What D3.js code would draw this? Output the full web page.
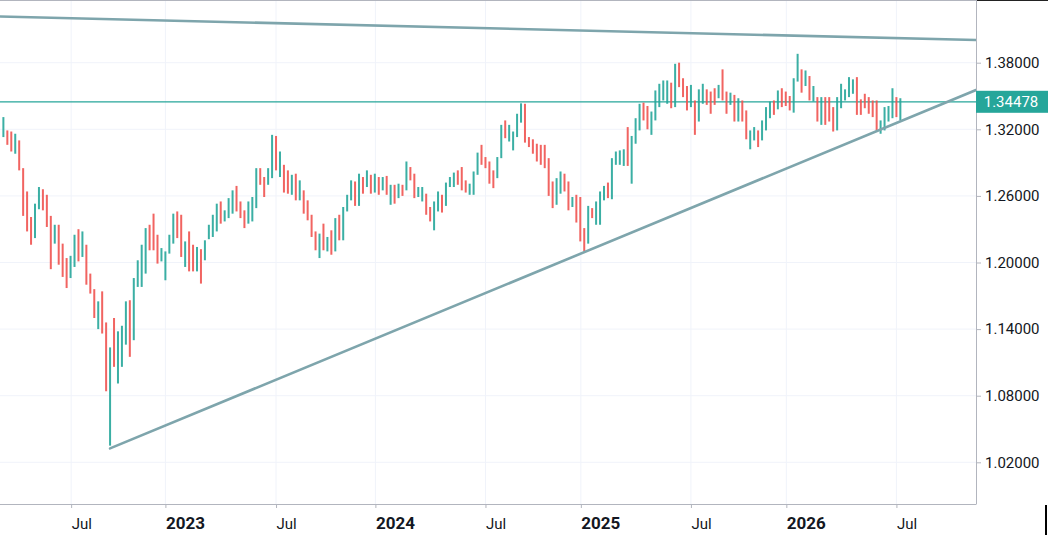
<!DOCTYPE html>
<html><head><meta charset="utf-8">
<script src="https://cdn.jsdelivr.net/npm/d3@7"></script>
<style>html,body{margin:0;padding:0;background:#fff;overflow:hidden}svg{display:block}</style>
</head><body><svg id="c" width="1048" height="535"></svg>
<script>
// ---- data (weekly OHLC, first bar week of 2022-03-21) ----
const startDate = "2022-03-21";
const highs = [
1.331,1.319,1.318,1.316,1.310,1.285,1.264,1.241,1.253,1.268,
1.266,1.261,1.242,1.234,1.234,1.217,1.204,1.206,1.225,1.230,
1.228,1.216,1.190,1.176,1.165,1.174,1.146,1.1235,1.150,1.138,
1.143,1.165,1.166,1.186,1.202,1.216,1.231,1.234,1.244,1.225,
1.213,1.210,1.225,1.244,1.246,1.243,1.219,1.228,1.216,1.214,
1.212,1.220,1.234,1.243,1.253,1.255,1.247,1.258,1.265,1.269,
1.255,1.247,1.255,1.259,1.285,1.285,1.277,1.285,1.315,1.314,
1.300,1.288,1.283,1.279,1.280,1.274,1.265,1.256,1.243,1.228,
1.226,1.235,1.223,1.229,1.240,1.243,1.250,1.261,1.274,1.273,
1.280,1.277,1.283,1.279,1.280,1.277,1.277,1.278,1.270,1.270,
1.271,1.270,1.291,1.286,1.280,1.268,1.268,1.262,1.250,1.255,
1.264,1.261,1.272,1.277,1.281,1.283,1.286,1.274,1.271,1.282,
1.299,1.306,1.295,1.291,1.283,1.295,1.324,1.328,1.324,1.318,
1.334,1.3434,1.343,1.313,1.311,1.307,1.306,1.306,1.294,1.273,
1.276,1.282,1.280,1.273,1.259,1.261,1.259,1.231,1.251,1.249,
1.255,1.264,1.269,1.272,1.294,1.300,1.301,1.302,1.322,1.314,
1.330,1.343,1.344,1.341,1.336,1.355,1.361,1.364,1.364,1.362,
1.379,1.380,1.366,1.359,1.360,1.346,1.356,1.361,1.356,1.354,
1.357,1.360,1.374,1.354,1.353,1.351,1.348,1.346,1.337,1.319,
1.322,1.319,1.328,1.340,1.345,1.346,1.355,1.357,1.354,1.350,
1.366,1.388,1.374,1.373,1.368,1.359,1.349,1.349,1.349,1.349,
1.340,1.349,1.361,1.356,1.367,1.365,1.367,1.347,1.352,1.349,
1.346,1.346,1.328,1.340,1.341,1.357,1.349,1.348];
const lows = [
1.313,1.306,1.300,1.298,1.283,1.242,1.228,1.216,1.222,1.248,
1.247,1.232,1.194,1.217,1.198,1.187,1.177,1.186,1.196,1.201,
1.205,1.180,1.172,1.150,1.140,1.136,1.084,1.035,1.106,1.091,
1.106,1.126,1.115,1.130,1.178,1.178,1.190,1.211,1.211,1.199,
1.201,1.184,1.208,1.217,1.222,1.205,1.196,1.192,1.192,1.192,
1.181,1.202,1.221,1.223,1.228,1.235,1.237,1.240,1.244,1.246,
1.240,1.231,1.235,1.237,1.249,1.270,1.259,1.270,1.276,1.283,
1.277,1.263,1.262,1.261,1.256,1.256,1.244,1.238,1.223,1.211,
1.204,1.211,1.210,1.207,1.210,1.220,1.220,1.246,1.256,1.251,
1.251,1.262,1.268,1.262,1.263,1.261,1.265,1.261,1.252,1.253,
1.258,1.260,1.265,1.274,1.258,1.259,1.255,1.243,1.237,1.229,
1.246,1.245,1.251,1.268,1.268,1.270,1.265,1.263,1.261,1.261,
1.279,1.288,1.285,1.271,1.267,1.276,1.294,1.312,1.309,1.301,
1.313,1.326,1.308,1.304,1.298,1.291,1.288,1.285,1.260,1.249,
1.252,1.262,1.264,1.247,1.250,1.236,1.219,1.210,1.217,1.240,
1.234,1.234,1.256,1.258,1.257,1.288,1.288,1.287,1.287,1.271,
1.307,1.319,1.328,1.320,1.315,1.328,1.340,1.346,1.343,1.339,
1.340,1.358,1.349,1.337,1.340,1.315,1.327,1.343,1.342,1.334,
1.342,1.348,1.346,1.334,1.342,1.327,1.327,1.327,1.311,1.302,
1.310,1.304,1.310,1.319,1.330,1.333,1.338,1.340,1.341,1.337,
1.335,1.363,1.353,1.359,1.346,1.345,1.327,1.324,1.324,1.327,
1.318,1.319,1.339,1.346,1.349,1.352,1.333,1.333,1.339,1.334,
1.331,1.319,1.316,1.319,1.327,1.330,1.331,1.328];
const opens = [
1.318,1.318,1.308,1.302,1.309,1.284,1.245,1.234,1.224,1.250,
1.263,1.251,1.236,1.219,1.230,1.201,1.190,1.188,1.203,1.220,
1.207,1.212,1.185,1.174,1.150,1.161,1.140,1.086,1.117,1.109,
1.118,1.130,1.149,1.138,1.183,1.189,1.209,1.229,1.226,1.216,
1.206,1.204,1.209,1.222,1.240,1.237,1.206,1.212,1.203,1.195,
1.205,1.203,1.222,1.229,1.233,1.242,1.241,1.244,1.256,1.263,
1.248,1.244,1.236,1.245,1.258,1.282,1.272,1.271,1.284,1.309,
1.283,1.286,1.270,1.268,1.272,1.268,1.264,1.247,1.242,1.226,
1.217,1.224,1.215,1.219,1.214,1.236,1.223,1.247,1.258,1.270,
1.259,1.273,1.269,1.278,1.268,1.275,1.266,1.272,1.259,1.266,
1.260,1.268,1.266,1.284,1.277,1.261,1.259,1.261,1.248,1.240,
1.250,1.259,1.253,1.269,1.274,1.279,1.275,1.270,1.264,1.265,
1.281,1.298,1.293,1.289,1.278,1.279,1.296,1.324,1.313,1.305,
1.316,1.329,1.336,1.312,1.309,1.304,1.302,1.299,1.290,1.268,
1.255,1.266,1.278,1.267,1.252,1.257,1.250,1.226,1.219,1.248,
1.238,1.240,1.259,1.268,1.260,1.290,1.291,1.291,1.296,1.280,
1.310,1.322,1.340,1.335,1.319,1.331,1.345,1.353,1.350,1.356,
1.345,1.372,1.363,1.352,1.344,1.343,1.332,1.347,1.354,1.351,
1.354,1.349,1.360,1.350,1.343,1.348,1.330,1.342,1.332,1.305,
1.312,1.316,1.311,1.322,1.334,1.343,1.340,1.352,1.347,1.344,
1.339,1.365,1.372,1.361,1.366,1.347,1.347,1.329,1.346,1.345,
1.336,1.322,1.343,1.348,1.352,1.355,1.362,1.343,1.349,1.345,
1.341,1.337,1.318,1.323,1.330,1.333,1.347,1.333];
const closes = [
1.327,1.308,1.302,1.312,1.285,1.245,1.232,1.219,1.249,1.263,
1.251,1.236,1.197,1.230,1.201,1.190,1.180,1.203,1.220,1.205,
1.224,1.183,1.176,1.153,1.161,1.140,1.086,1.117,1.109,1.118,
1.130,1.149,1.138,1.183,1.189,1.209,1.229,1.226,1.216,1.206,
1.209,1.208,1.222,1.239,1.237,1.206,1.212,1.203,1.195,1.204,
1.202,1.217,1.229,1.233,1.242,1.241,1.244,1.256,1.263,1.248,
1.244,1.236,1.245,1.258,1.282,1.272,1.270,1.284,1.309,1.285,
1.286,1.270,1.268,1.272,1.268,1.270,1.247,1.243,1.231,1.217,
1.224,1.215,1.219,1.214,1.236,1.223,1.246,1.258,1.270,1.259,
1.273,1.265,1.279,1.268,1.275,1.264,1.272,1.263,1.266,1.257,
1.268,1.263,1.287,1.277,1.262,1.266,1.264,1.247,1.240,1.250,
1.260,1.250,1.269,1.274,1.278,1.272,1.268,1.265,1.268,1.280,
1.294,1.290,1.288,1.274,1.270,1.292,1.321,1.314,1.320,1.316,
1.331,1.3385,1.312,1.306,1.302,1.296,1.291,1.289,1.265,1.253,
1.270,1.276,1.267,1.250,1.256,1.239,1.224,1.215,1.246,1.242,
1.250,1.260,1.266,1.261,1.291,1.295,1.296,1.298,1.292,1.309,
1.326,1.338,1.331,1.325,1.331,1.350,1.357,1.361,1.360,1.342,
1.372,1.363,1.352,1.341,1.356,1.318,1.350,1.357,1.345,1.337,
1.345,1.357,1.349,1.339,1.350,1.331,1.344,1.330,1.314,1.315,
1.318,1.307,1.325,1.337,1.342,1.336,1.352,1.343,1.342,1.339,
1.363,1.380,1.356,1.369,1.349,1.355,1.331,1.345,1.327,1.331,
1.322,1.344,1.356,1.354,1.363,1.362,1.337,1.336,1.342,1.337,
1.334,1.322,1.325,1.336,1.337,1.350,1.335,1.34478];

const priceTicks = [1.02, 1.08, 1.14, 1.20, 1.26, 1.32, 1.38];
const timeTicks = ["2022-07-19","2023-01-02","2023-07-17","2024-01-09","2024-07-22","2025-01-07","2025-07-21","2026-01-06","2026-07-20"];
const timeTickLabels = ["Jul","2023","Jul","2024","Jul","2025","Jul","2026","Jul"];
const lastPrice = 1.34478;
const trendUpper = [["2022-03-15", 1.4216], ["2026-12-08", 1.4004]];
const trendLower = [["2022-09-26", 1.0325], ["2026-12-08", 1.3554]];
const viewStart = "2022-03-15", viewEnd = "2026-12-08";
const priceMin = 0.98243, priceMax = 1.43649;

// ---- build ----
const W = 1048, H = 535, plotR = 976, plotB = 504;
const parse = d3.utcParse("%Y-%m-%d");
const t0 = parse(startDate);
const bars = highs.map((h, i) => ({
  date: d3.utcDay.offset(t0, 7 * i), o: opens[i], h: h, l: lows[i], c: closes[i]
}));
const x = d3.scaleUtc().domain([parse(viewStart), parse(viewEnd)]).range([0, plotR]);
const y = d3.scaleLinear().domain([priceMin, priceMax]).range([plotB, 0]);

const svg = d3.select("#c");
svg.append("rect").attr("width", W).attr("height", H).attr("fill", "#fff");
svg.append("defs").append("clipPath").attr("id", "clip")
  .append("rect").attr("x", 0).attr("y", 0).attr("width", plotR).attr("height", plotB);

const grid = svg.append("g");
grid.selectAll("line.h").data(priceTicks).join("line")
  .attr("x1", 0).attr("x2", plotR)
  .attr("y1", d => y(d)).attr("y2", d => y(d))
  .attr("stroke", "#f0f3fa").attr("stroke-width", 1);
grid.selectAll("line.v").data(timeTicks).join("line")
  .attr("x1", d => x(parse(d))).attr("x2", d => x(parse(d)))
  .attr("y1", 0).attr("y2", plotB)
  .attr("stroke", "#f0f3fa").attr("stroke-width", 1);

const plot = svg.append("g").attr("clip-path", "url(#clip)");
// last price line
plot.append("line").attr("x1", 0).attr("x2", plotR)
  .attr("y1", y(lastPrice)).attr("y2", y(lastPrice))
  .attr("stroke", "#26a69a").attr("stroke-width", 1.2);

// OHLC bars
plot.selectAll("rect.bar").data(bars).join("rect")
  .attr("x", d => x(d.date) - 1).attr("width", 2)
  .attr("y", d => y(d.h)).attr("height", d => Math.max(1, y(d.l) - y(d.h)))
  .attr("fill", d => d.c >= d.o ? "#26a69a" : "#ef5350")
  .attr("opacity", 0.9);

// trend lines
const tl = d3.line().x(d => x(parse(d[0]))).y(d => y(d[1]));
[trendUpper, trendLower].forEach(t => {
  plot.append("path").attr("d", tl(t)).attr("fill", "none")
    .attr("stroke", "#7ea5ac").attr("stroke-width", 2.6).attr("stroke-linecap", "round");
});

// borders
svg.append("line").attr("x1", 0).attr("x2", plotR).attr("y1", 0.5).attr("y2", 0.5).attr("stroke", "#b2b5be");
svg.append("line").attr("x1", plotR).attr("x2", W).attr("y1", 0.5).attr("y2", 0.5).attr("stroke", "#222");
svg.append("line").attr("x1", plotR + 0.5).attr("x2", plotR + 0.5).attr("y1", 0).attr("y2", plotB).attr("stroke", "#b2b5be");
svg.append("line").attr("x1", 0).attr("x2", plotR + 0.5).attr("y1", plotB + 0.5).attr("y2", plotB + 0.5).attr("stroke", "#b2b5be");
svg.append("line").attr("x1", 1046).attr("x2", 1046).attr("y1", plotB + 1).attr("y2", H).attr("stroke", "#000").attr("stroke-width", 2);

// right price axis
const yAxis = d3.axisRight(y).tickValues(priceTicks).tickFormat(d3.format(".5f")).tickSize(5).tickPadding(4);
const ya = svg.append("g").attr("transform", `translate(${plotR},0)`).call(yAxis);
ya.select(".domain").remove();
ya.selectAll("line").attr("stroke", "#b2b5be");
ya.selectAll("text").attr("fill", "#131722").attr("font-family", "Roboto, sans-serif").attr("font-size", 15);

// bottom time axis
const xAxis = d3.axisBottom(x).tickValues(timeTicks.map(parse))
  .tickFormat((d, i) => timeTickLabels[i]).tickSize(4).tickPadding(0);
const xa = svg.append("g").attr("transform", `translate(0,${plotB})`).call(xAxis);
xa.select(".domain").remove();
xa.selectAll("line").attr("stroke", "#b2b5be");
xa.selectAll("text")
  .attr("text-anchor", "start").attr("dx", 0).attr("y", 25).attr("dy", 0)
  .attr("fill", "#131722").attr("font-family", "Roboto, sans-serif")
  .attr("font-size", (d, i) => timeTickLabels[i] === "Jul" ? 15 : 17)
  .attr("font-weight", (d, i) => timeTickLabels[i] === "Jul" ? 400 : 700);

// last price label
const lp = svg.append("g").attr("transform", `translate(${plotR},${y(lastPrice)})`);
lp.append("rect").attr("x", 0).attr("y", -11).attr("width", W - plotR).attr("height", 22).attr("fill", "#26a69a");
lp.append("text").attr("x", 35).attr("y", 5.5).attr("text-anchor", "middle")
  .attr("fill", "#fff").attr("font-family", "Roboto, sans-serif").attr("font-size", 15)
  .text(d3.format(".5f")(lastPrice));
</script></body></html>
